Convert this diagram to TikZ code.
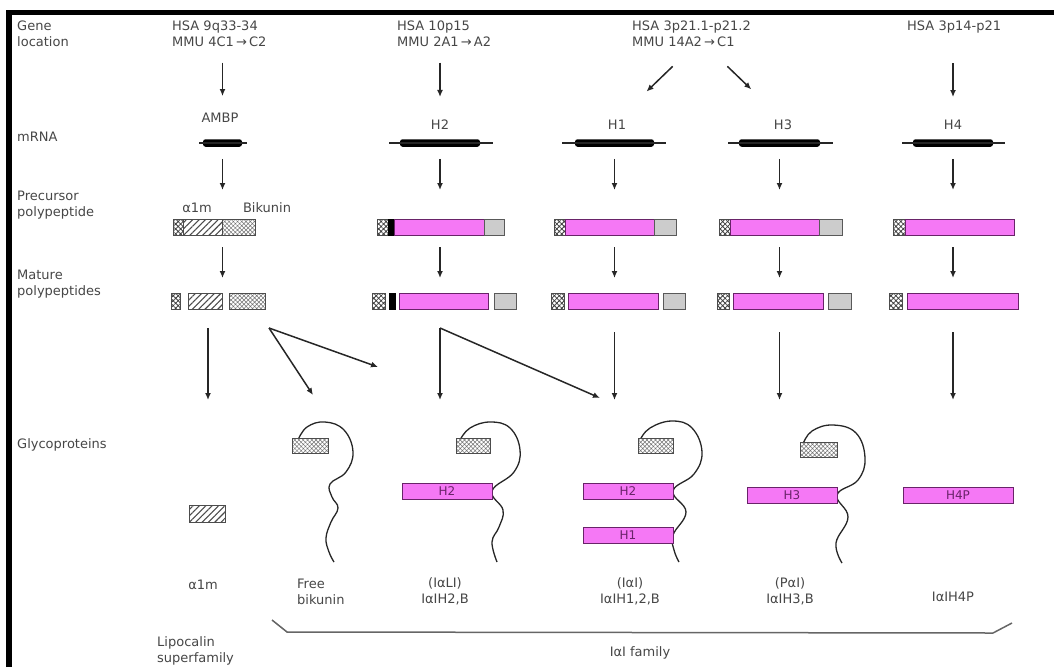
\documentclass[tikz,border=0pt]{standalone}
\usepackage{fontspec}
\setmainfont{DejaVu Sans}
\usetikzlibrary{positioning,arrows.meta,patterns.meta,backgrounds}
\definecolor{hcfill}{RGB}{245,120,245}
\definecolor{hcdraw}{RGB}{105,35,105}
\definecolor{txtgray}{RGB}{70,70,70}
\begin{document}
\begin{tikzpicture}[x=1pt,y=-1pt,
  font=\fontsize{13}{16}\selectfont,
  rowlbl/.style={anchor=west,align=left,inner sep=0,text=txtgray},
  txt/.style={inner sep=0,align=center,text=txtgray},
  arr/.style={line width=1.5pt,draw=black!85,-{Latex[length=7pt,width=6pt]}},
  mrna/.style={fill=black,inner sep=0,outer sep=0,anchor=west,minimum height=7.5pt,minimum width=#1,rounded corners=2.5pt},
  mthin/.style={line width=1.3pt,draw=black!85},
  seg/.style={draw=black!70,line width=0.8pt,inner sep=0,outer sep=0,anchor=west,minimum height=16pt},
  sigbox/.style={seg,minimum width=#1,preaction={fill=white},pattern={Hatch[angle=45,distance=3.5pt,line width=0.8pt]},pattern color=black!75},
  a1mbox/.style={seg,minimum width=#1,preaction={fill=white},pattern={Lines[angle=45,distance=4.5pt,line width=1.1pt]},pattern color=black!70},
  bikbox/.style={seg,minimum width=#1,preaction={fill=white},pattern={Hatch[angle=45,distance=3pt,line width=0.5pt]},pattern color=black!55},
  probar/.style={seg,minimum width=#1,fill=black,draw=black},
  hcbox/.style={seg,minimum width=#1,fill=hcfill,draw=hcdraw,text=hcdraw,font=\fontsize{12}{14}\selectfont},
  cterm/.style={seg,minimum width=#1,fill=black!20,draw=black!65},
  chain/.style={line width=1.3pt,draw=black!85},
  famline/.style={line width=1.5pt,draw=black!60}
  ]
  \useasboundingbox (0,0) rectangle (1054,667);
  % frame
  \draw[line width=5.5pt] (9,667) -- (9,12.5) -- (1054,12.5);
  %
  % Row labels
  %
  \node (rowloc) [rowlbl] at (17,33.5)  {Gene\\location};
  \node (rowmrna)[rowlbl] at (17,137)   {mRNA};
  \node (rowpre) [rowlbl] at (17,205)   {Precursor\\polypeptide};
  \node (rowmat) [rowlbl] at (17,284)   {Mature\\polypeptides};
  \node (rowgly) [rowlbl] at (17,445)   {Glycoproteins};
  %
  % Gene location
  %
  \node (locA)[rowlbl] at (172,33.5) {HSA 9q33-34\\MMU 4C1\,→\,C2};
  \node (locB)[rowlbl] at (397,33.5) {HSA 10p15\\MMU 2A1\,→\,A2};
  \node (locC)[rowlbl] at (632,33.5) {HSA 3p21.1-p21.2\\MMU 14A2\,→\,C1};
  \node (locD)[rowlbl] at (907,27)   {HSA 3p14-p21};
  \coordinate (split) at (700,40);
  %
  % mRNA
  %
  \node (lbA) [txt] at (220,118) {AMBP};
  \node (lbB) [txt] at (440,125) {H2};
  \node (lbC) [txt] at (617,125) {H1};
  \node (lbD) [txt] at (783,125) {H3};
  \node (lbE) [txt] at (953,125) {H4};
  \node (mrA) [mrna=39] at (203,143) {};
  \node (mrB) [mrna=80] at (400,143) {};
  \node (mrC) [mrna=79] at (575,143) {};
  \node (mrD) [mrna=81] at (739,143) {};
  \node (mrE) [mrna=80] at (913,143) {};
  \draw[mthin] ([xshift=-4pt]mrA.west)  -- ([xshift=5pt]mrA.east);
  \draw[mthin] ([xshift=-11pt]mrB.west) -- ([xshift=13pt]mrB.east);
  \draw[mthin] ([xshift=-13pt]mrC.west) -- ([xshift=12pt]mrC.east);
  \draw[mthin] ([xshift=-11pt]mrD.west) -- ([xshift=13pt]mrD.east);
  \draw[mthin] ([xshift=-11pt]mrE.west) -- ([xshift=12pt]mrE.east);
  %
  % Precursor polypeptides
  %
  \node (nmA) [txt] at (197,208) {α1m};
  \node (nmB) [txt] at (267,208) {Bikunin};
  \node (preAs)[sigbox=10] at (173,227) {};
  \node (preAa)[a1mbox=39,right=0pt of preAs] {};
  \node (preAb)[bikbox=33,right=0pt of preAa] {};
  \node (preBs)[sigbox=11] at (377,227) {};
  \node (preBp)[probar=6,right=0pt of preBs] {};
  \node (preBh)[hcbox=90,right=0pt of preBp] {};
  \node (preBc)[cterm=20,right=0pt of preBh] {};
  \node (preCs)[sigbox=11] at (554,227) {};
  \node (preCh)[hcbox=89,right=0pt of preCs] {};
  \node (preCc)[cterm=22,right=0pt of preCh] {};
  \node (preDs)[sigbox=11] at (719,227) {};
  \node (preDh)[hcbox=89,right=0pt of preDs] {};
  \node (preDc)[cterm=23,right=0pt of preDh] {};
  \node (preEs)[sigbox=12] at (893,227) {};
  \node (preEh)[hcbox=109,right=0pt of preEs] {};
  %
  % Mature polypeptides
  %
  \node (matAs)[sigbox=9] at (171,301) {};
  \node (matAa)[a1mbox=34,right=8pt of matAs] {};
  \node (matAb)[bikbox=36,right=7pt of matAa] {};
  \node (matBs)[sigbox=13] at (372,301) {};
  \node (matBp)[probar=6,right=4pt of matBs] {};
  \node (matBh)[hcbox=89,right=4pt of matBp] {};
  \node (matBc)[cterm=22,right=6pt of matBh] {};
  \node (matCs)[sigbox=13] at (551,301) {};
  \node (matCh)[hcbox=90,right=4pt of matCs] {};
  \node (matCc)[cterm=22,right=5pt of matCh] {};
  \node (matDs)[sigbox=12] at (717,301) {};
  \node (matDh)[hcbox=90,right=4pt of matDs] {};
  \node (matDc)[cterm=23,right=5pt of matDh] {};
  \node (matEs)[sigbox=13] at (889,301) {};
  \node (matEh)[hcbox=111,right=5pt of matEs] {};
  %
  % Glycoproteins
  %
  \node (glyA)  [a1mbox=36,minimum height=17pt] at (189,513.5) {};
  \node (glyBk) [bikbox=36,minimum height=15pt] at (292,445.5) {};
  \node (glyCk) [bikbox=34,minimum height=15pt] at (456,445.5) {};
  \node (glyCh) [hcbox=90] at (402,491)   {H2};
  \node (glyDk) [bikbox=35,minimum height=15pt] at (638,445.5) {};
  \node (glyDh2)[hcbox=90] at (583,491.5) {H2};
  \node (glyDh1)[hcbox=90] at (583,535)   {H1};
  \node (glyEk) [bikbox=37,minimum height=15pt] at (800,449.5) {};
  \node (glyEh) [hcbox=90] at (747,495)   {H3};
  \node (glyFh) [hcbox=110] at (903,495)  {H4P};
  \begin{scope}[on background layer]
    \draw[chain] plot[smooth,tension=0.7] coordinates {(298,440) (307,427) (325,422) (344,430) (353,452) (346,472) (330,484) (332,497) (338,508) (331,522) (326,538) (329,552) (334,562)};
    \draw[chain] plot[smooth,tension=0.7] coordinates {(460,440) (470,428) (490,422) (510,428) (520,450) (514,472) (492,491) (503,510) (499,527) (492,542) (497,562)};
    \draw[chain] plot[smooth,tension=0.7] coordinates {(640,440) (650,428) (672,421) (692,428) (702,452) (694,474) (673,491) (686,512) (673,535) (674,550) (679,562)};
    \draw[chain] plot[smooth,tension=0.7] coordinates {(803,444) (812,431) (833,425) (856,433) (865,458) (858,480) (837,495) (848,517) (836,543) (842,563)};
  \end{scope}
  %
  % Names
  %
  \node (a1mname)[txt] at (203,585) {α1m};
  \node (bikname)[rowlbl] at (297,592) {Free\\bikunin};
  \node (iliname)[txt] at (445,591) {(IαLI)\\IαIH2,B};
  \node (iainame)[txt] at (630,591) {(IαI)\\IαIH1,2,B};
  \node (painame)[txt] at (790,591) {(PαI)\\IαIH3,B};
  \node (h4pname)[txt] at (953,597) {IαIH4P};
  \node (lipname)[rowlbl] at (157,651) {Lipocalin\\superfamily};
  \node (famname)[txt] at (640,653) {IαI family};
  \draw[famline] (272,620) -- (287,632) -- (993,633) -- (1012,623);
  %
  % Arrows
  %
  % gene location -> mRNA
  \draw[arr,shorten <=16pt,shorten >=17pt] (locA.south -| mrA) -- (lbA.north -| mrA);
  \draw[arr,shorten <=16pt,shorten >=23pt] (locB.south -| mrB) -- (lbB.north -| mrB);
  \draw[arr,shorten <=30pt,shorten >=23pt] (locD.south -| mrE) -- (lbE.north -| mrE);
  \draw[arr,shorten <=38pt,shorten >=41pt] (split) -- (lbC.north);
  \draw[arr,shorten <=38pt,shorten >=44pt] (split) -- (lbD.north);
  % mRNA -> precursor
  \foreach \c in {A,B,C,D,E}
    \draw[arr,shorten <=12pt,shorten >=29pt] (mr\c.south) -- (mr\c.south |- preAa.north);
  % precursor -> mature
  \foreach \c in {A,B,C,D,E}
    \draw[arr,shorten <=12pt,shorten >=15pt] (preAa.south -| mr\c) -- (matAa.north -| mr\c);
  % mature -> glycoproteins
  \coordinate (gA) at (208,400);
  \coordinate (bikfork) at (269,328);
  \coordinate (gBik) at (313,395);
  \coordinate (gIli) at (378,367);
  \coordinate (h2fork) at (440,328);
  \coordinate (gIai) at (600,398);
  \draw[arr,shorten <=19pt] (matAa.south -| gA) -- (gA);
  \draw[arr] (bikfork) -- (gBik);
  \draw[arr] (bikfork) -- (gIli);
  \draw[arr] (h2fork) -- (h2fork |- gA);
  \draw[arr] (h2fork) -- (gIai);
  \draw[arr,shorten <=23pt] (matCh.south -| mrC) -- (mrC |- gA);
  \draw[arr,shorten <=23pt] (matDh.south -| mrD) -- (mrD |- gA);
  \draw[arr,shorten <=23pt] (matEh.south -| mrE) -- (mrE |- gA);
\end{tikzpicture}
\end{document}
